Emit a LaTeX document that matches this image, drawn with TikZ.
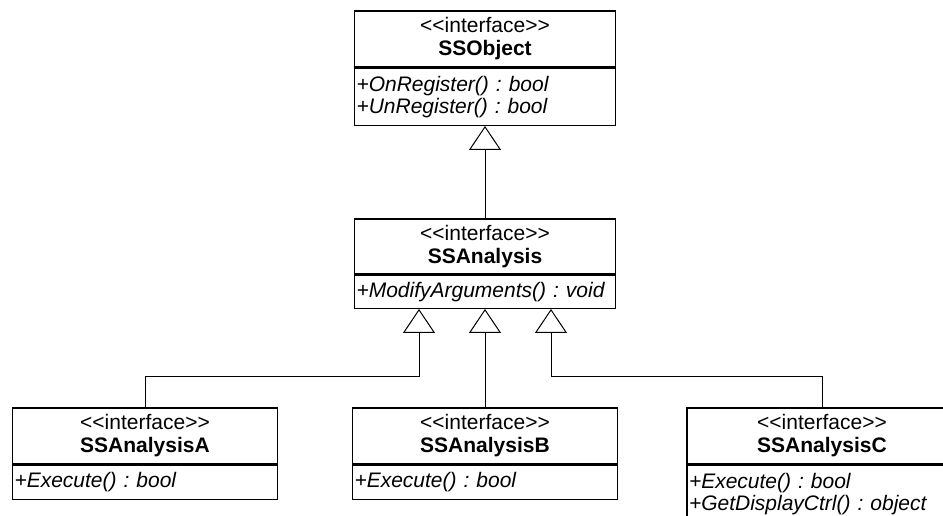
\documentclass[tikz,border=0pt]{standalone}
\usepackage{fontspec}
\setmainfont{Liberation Sans}
\usetikzlibrary{arrows.meta,positioning}

\newcommand{\stereo}{<\kern0pt<interface>\kern0pt>}

\begin{document}
\frenchspacing
\begin{tikzpicture}[
    x=1pt, y=1pt,
    node distance=0pt,
    classhead/.style={rectangle, draw=black, line width=1.3pt, minimum width=265pt, minimum height=56pt, inner sep=0pt, align=center, font=\fontsize{21}{23}\selectfont},
    classops/.style={rectangle, draw=black, line width=1.3pt, minimum width=265pt, text width=261pt, minimum height=34pt, inner xsep=2pt, inner ysep=0pt, align=left, font=\fontsize{21}{22}\selectfont\itshape},
    generalization/.style={-{Triangle[open, width=32pt, length=24pt]}, line width=1pt, draw=black}
]
    \useasboundingbox (0,0) rectangle (943,-516);
    \clip (0,0) rectangle (943,-516);

    % top interface
    \node (ssobj) [classhead, minimum width=261pt] at (485,-39) {\stereo\\\textbf{SSObject}};
    \node (ssobjops) [classops, minimum width=261pt, text width=257pt, minimum height=57pt, below=of ssobj] {+OnRegister() : bool\\+UnRegister() : bool};

    % middle interface
    \node (ssana) [classhead, minimum width=261pt, minimum height=55pt] at (485,-246.5) {\stereo\\\textbf{SSAnalysis}};
    \node (ssanaops) [classops, minimum width=261pt, text width=257pt, minimum height=33pt, below=of ssana] {+ModifyArguments() : void};

    % bottom interfaces
    \node (ssanaA) [classhead] at (145,-436) {\stereo\\\textbf{SSAnalysisA}};
    \node (ssanaAops) [classops, below=of ssanaA] {+Execute() : bool};
    \node (ssanaB) [classhead] at (485,-436) {\stereo\\\textbf{SSAnalysisB}};
    \node (ssanaBops) [classops, below=of ssanaB] {+Execute() : bool};
    \node (ssanaC) [classhead, minimum width=270pt] at (822,-436) {\stereo\\\textbf{SSAnalysisC}};
    \node (ssanaCops) [classops, minimum width=270pt, text width=266pt, minimum height=57pt, below=of ssanaC] {+Execute() : bool\\+GetDisplayCtrl() : object};

    \draw [generalization] (ssana.north) -- (ssobjops.south);
    \draw [generalization] (ssanaA.north) -- ++(0,31) -| ([xshift=-66pt]ssanaops.south);
    \draw [generalization] (ssanaB.north) -- (ssanaops.south);
    \draw [generalization] (ssanaC.north) -- ++(0,31) -| ([xshift=66pt]ssanaops.south);
\end{tikzpicture}
\end{document}
